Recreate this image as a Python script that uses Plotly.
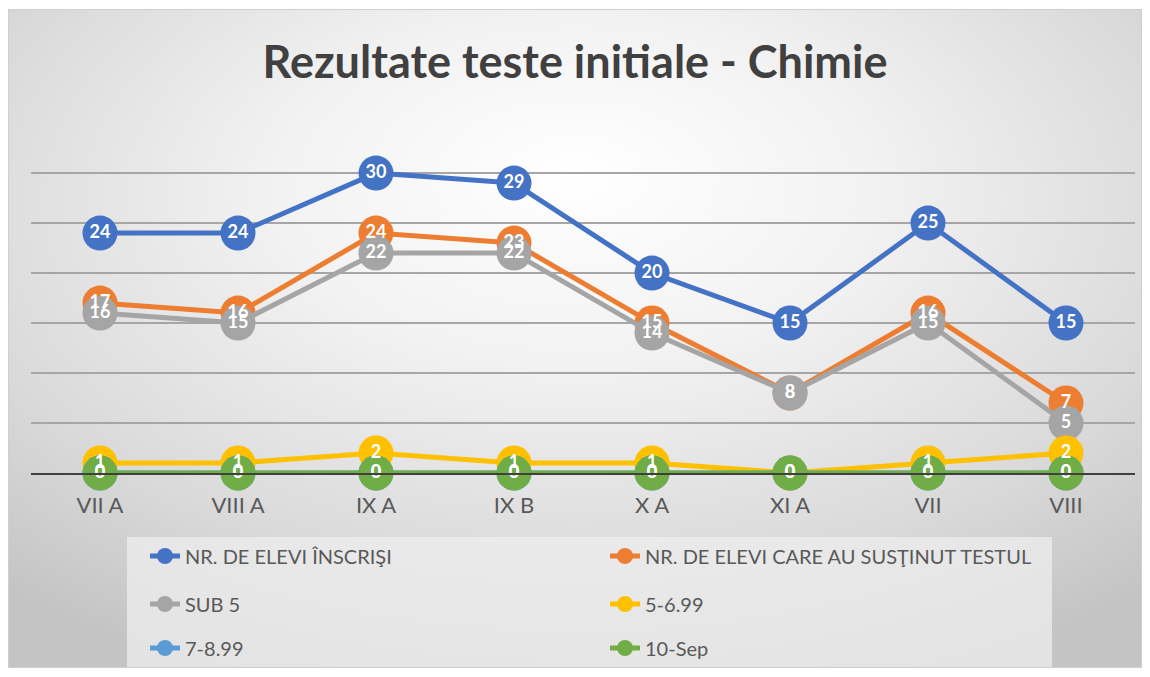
import base64
import plotly.graph_objects as go

categories = ["VII A", "VIII A", "IX A", "IX B", "X A", "XI A", "VII", "VIII"]
inscrisi = [24, 24, 30, 29, 20, 15, 25, 15]
sustinut = [17, 16, 24, 23, 15, 8, 16, 7]
sub5 = [16, 15, 22, 22, 14, 8, 15, 5]
n5_699 = [1, 1, 2, 1, 1, 0, 1, 2]
n7_899 = [0, 0, 0, 0, 0, 0, 0, 0]
n9_10 = [0, 0, 0, 0, 0, 0, 0, 0]

series = [
    ("NR. DE ELEVI ÎNSCRIŞI", inscrisi, "#4472C4", "legend"),
    ("NR. DE ELEVI CARE AU SUSŢINUT TESTUL", sustinut, "#ED7D31", "legend"),
    ("SUB 5", sub5, "#A5A5A5", "legend2"),
    ("5-6.99", n5_699, "#FFC000", "legend2"),
    ("7-8.99", n7_899, "#5B9BD5", "legend3"),
    ("10-Sep", n9_10, "#70AD47", "legend3"),
]

W, H = 1150, 677
L, R, T, B = 31, 15, 123, 204
pw, ph = W - L - R, H - T - B
def px(x):
    return (x - L) / pw
def py(y):
    return (H - B - y) / ph

fig = go.Figure()
for name, vals, col, lg in series:
    fig.add_trace(go.Scatter(
        x=categories, y=vals, name=name, mode="lines+markers",
        line=dict(color=col, width=5),
        marker=dict(color=col, size=35),
        legend=lg, cliponaxis=False,
    ))
for name, vals, col, lg in series:
    fig.add_trace(go.Scatter(
        x=categories, y=vals, mode="text", text=[str(v) for v in vals],
        textposition="middle center", showlegend=False, hoverinfo="skip",
        textfont=dict(family="Lato, Open Sans, sans-serif", size=18, color="white", weight="bold"),
        cliponaxis=False,
    ))

svg = f'''<svg xmlns="http://www.w3.org/2000/svg" width="1134" height="659" viewBox="0 0 1134 659" preserveAspectRatio="none">
<defs><radialGradient id="g" cx="50%" cy="32%" r="75%" fx="50%" fy="25%">
<stop offset="0" stop-color="#ffffff"/><stop offset="0.35" stop-color="#f2f2f2"/>
<stop offset="0.75" stop-color="#d9d9d9"/><stop offset="1" stop-color="#c4c4c4"/></radialGradient></defs>
<rect x="0" y="0" width="1134" height="659" fill="url(#g)" stroke="#cfcfcf" stroke-width="2"/>
</svg>'''
uri = "data:image/svg+xml;base64," + base64.b64encode(svg.encode()).decode()

fig.add_layout_image(dict(
    source=uri, xref="paper", yref="paper",
    x=px(8), y=py(9), sizex=1134 / pw, sizey=659 / ph,
    xanchor="left", yanchor="top", sizing="stretch", layer="below",
))

fig.add_shape(type="rect", xref="paper", yref="paper",
              x0=px(127), x1=px(1052), y0=py(667), y1=py(537),
              fillcolor="rgba(238,238,238,0.75)", line=dict(width=0), layer="below")

legfont = dict(family="Lato, Open Sans, sans-serif", size=20, color="#595959")
legcommon = dict(orientation="h", xanchor="left", yanchor="middle", x=px(145),
                 bgcolor="rgba(0,0,0,0)", font=legfont, entrywidth=415, entrywidthmode="pixels",
                 itemclick=False)

fig.update_layout(
    width=W, height=H,
    margin=dict(l=L, r=R, t=T, b=B, autoexpand=False),
    paper_bgcolor="white", plot_bgcolor="rgba(0,0,0,0)",
    title=dict(text="<b>Rezultate teste initiale - Chimie</b>", x=0.5, xanchor="center",
               y=1 - 62 / H, yanchor="middle",
               font=dict(family="Lato, Open Sans, sans-serif", size=45, color="#404040")),
    xaxis=dict(range=[-0.5, len(categories) - 0.5], showgrid=False, showline=True,
               linecolor="#404040", linewidth=2,
               tickfont=dict(family="Lato, Open Sans, sans-serif", size=22, color="#595959"),
               ticks="", ticklabelstandoff=12, fixedrange=True),
    yaxis=dict(range=[0, 35.01], tickvals=[5, 10, 15, 20, 25, 30, 35], showticklabels=False, showgrid=True,
               gridcolor="#a6a6a6", gridwidth=1.5, zeroline=False, fixedrange=True),
    legend=dict(**legcommon, y=py(556)),
    legend2=dict(**legcommon, y=py(604)),
    legend3=dict(**legcommon, y=py(648)),
    showlegend=True,
)

fig.write_html("out.html", config={"displayModeBar": False},
               post_script="document.body.style.margin='0';document.body.style.overflow='hidden';")
